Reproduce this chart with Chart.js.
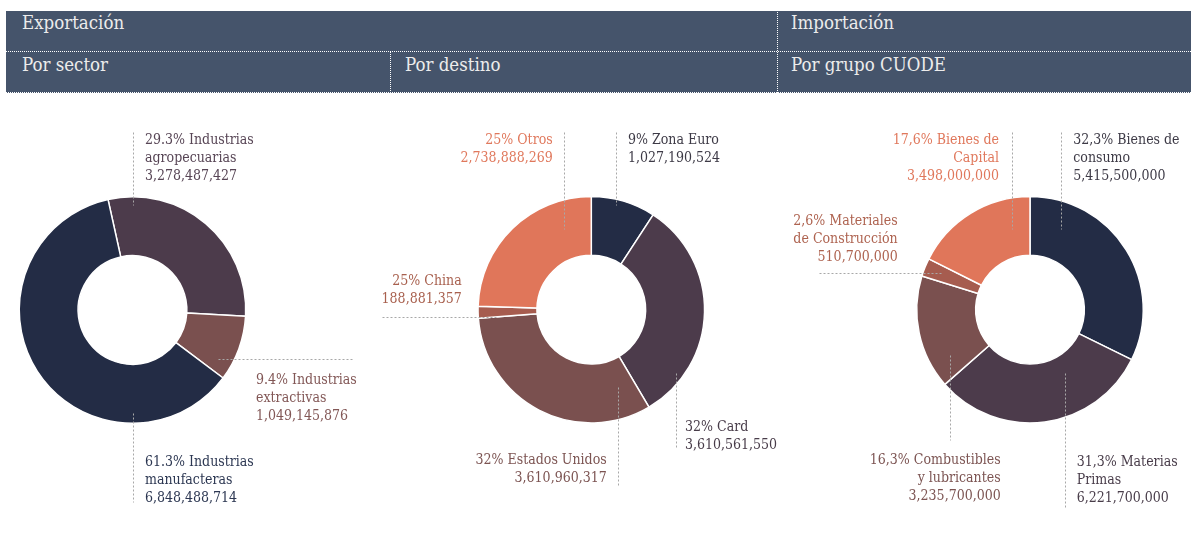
<!DOCTYPE html>
<html>
<head>
<meta charset="utf-8">
<script src="https://cdn.jsdelivr.net/npm/chart.js@4.4.1/dist/chart.umd.min.js"></script>
<style>
  body { margin: 0; width: 1191px; height: 538px; background: #fff; position: relative; overflow: hidden;
         font-family: "DejaVu Serif Condensed", "DejaVu Serif", serif; }
  .band { position: absolute; left: 6px; top: 11px; width: 1185px; height: 82px; background: #45546b; }
  .hline { position: absolute; left: 6px; width: 1185px; border-top: 1px dotted #fff; }
  .vline { position: absolute; border-left: 1px dotted #fff; }
  .htxt { position: absolute; color: #ececec; font-size: 18.5px; line-height: 22px; }
  canvas { position: absolute; top: 100px; }
</style>
</head>
<body>
<div class="band"></div>
<div class="hline" style="top:51px"></div>
<div class="hline" style="top:92px"></div>
<div class="vline" style="left:777px; top:9px; height:84px"></div>
<div class="vline" style="left:390px; top:51px; height:42px"></div>
<div class="htxt" style="left:22px; top:12px">Exportación</div>
<div class="htxt" style="left:791px; top:12px">Importación</div>
<div class="htxt" style="left:22px; top:54px">Por sector</div>
<div class="htxt" style="left:405px; top:54px">Por destino</div>
<div class="htxt" style="left:791px; top:54px">Por grupo CUODE</div>

<canvas id="sectorChart" width="385" height="438" style="left:0px"></canvas>
<canvas id="destinoChart" width="420" height="438" style="left:375px"></canvas>
<canvas id="cuodeChart" width="411" height="438" style="left:780px"></canvas>

<script>
// Exportación por sector (clockwise from the top)
const sectorLabels = [['29.3% Industrias', 'agropecuarias'], ['9.4% Industrias', 'extractivas'], ['61.3% Industrias', 'manufacteras']];
const sectorValues = [3278487427, 1049145876, 6848488714];

// Exportación por destino
const destinoLabels = [['9% Zona Euro'], ['32% Card'], ['32% Estados Unidos'], ['25% China'], ['25% Otros']];
const destinoValues = [1027190524, 3610561550, 3610960317, 188881357, 2738888269];

// Importación por grupo CUODE: slices follow the printed percentages
const cuodeLabels = [['32,3% Bienes de', 'consumo'], ['31,3% Materias', 'Primas'], ['16,3% Combustibles', 'y lubricantes'], ['2,6% Materiales', 'de Construcción'], ['17,6% Bienes de', 'Capital']];
const cuodeShares = [32.3, 31.3, 16.3, 2.6, 17.6];
const cuodeValues = [5415500000, 6221700000, 3235700000, 510700000, 3498000000];

const NAVY = '#232c45', PLUM = '#4c3b4b', BROWN = '#7a504f', CORAL = '#e0765a', RUST = '#a65c4f';
const FONT = '14px "DejaVu Serif Condensed", "DejaVu Serif", serif';

// callout layout, offsets from the ring centre: leader line [x1,y1,x2,y2], text anchor, alignment
const sectorCallouts = [
  { line: [0, -178, 0, -105], tx: 12.5, ty: -171, align: 'left', color: '#574555' },
  { line: [85.5, 49, 219.5, 49], tx: 123.5, ty: 69, align: 'left', color: '#825756' },
  { line: [0, 103, 0, 192], tx: 12.5, ty: 151, align: 'left', color: '#2c3752' }
];
const destinoCallouts = [
  { line: [24.7, -178, 24.7, -105], tx: 36.7, ty: -171, align: 'left', color: '#3d3a46' },
  { line: [84.7, 63, 84.7, 138], tx: 93.7, ty: 116, align: 'left', color: '#483c49' },
  { line: [27, 77, 27, 175], tx: 15.4, ty: 149, align: 'right', color: '#7c5452' },
  { line: [-209.6, 7, -93.3, 7], tx: -129.6, ty: -30, align: 'right', color: '#a8604e' },
  { line: [-27, -178, -27, -81], tx: -38.6, ty: -171, align: 'right', color: '#e0785c' }
];
const cuodeCallouts = [
  { line: [31, -178, 31, -81], tx: 43.3, ty: -171, align: 'left', color: '#3d3a46' },
  { line: [35, 63, 35, 197], tx: 46.7, ty: 151, align: 'left', color: '#483c49' },
  { line: [-80, 45, -80, 130], tx: -29.3, ty: 149, align: 'right', color: '#7c5452' },
  { line: [-210.7, -37, -89.3, -37], tx: -132.3, ty: -90, align: 'right', color: '#ae6350' },
  { line: [-18.3, -178, -18.3, -81], tx: -31, ty: -171, align: 'right', color: '#e0785c' }
];

const calloutPlugin = {
  id: 'callouts',
  afterDatasetsDraw(chart, args, opts) {
    const arc = chart.getDatasetMeta(0).data[0];
    if (!arc) return;
    const cx = arc.x, cy = arc.y;
    const ctx = chart.ctx;
    ctx.save();
    opts.items.forEach((c, i) => {
      ctx.strokeStyle = '#a8a8a8';
      ctx.lineWidth = 1;
      ctx.setLineDash([2, 2]);
      ctx.beginPath();
      ctx.moveTo(Math.round(cx + c.line[0]) + 0.5, Math.round(cy + c.line[1]) + 0.5);
      ctx.lineTo(Math.round(cx + c.line[2]) + 0.5, Math.round(cy + c.line[3]) + 0.5);
      ctx.stroke();

      const lines = opts.labels[i].concat([opts.values[i].toLocaleString('en-US')]);
      ctx.fillStyle = c.color;
      ctx.font = FONT;
      ctx.textAlign = c.align;
      ctx.textBaseline = 'alphabetic';
      lines.forEach((t, k) => ctx.fillText(t, cx + c.tx, cy + c.ty + 5 + k * 18));
    });
    ctx.restore();
  }
};

function makeDoughnut(id, data, colors, rotation, center, labels, values, callouts) {
  const canvas = document.getElementById(id);
  const left = parseFloat(canvas.style.left);
  const w = canvas.width, h = canvas.height;
  const cx = center[0] - left, cy = center[1] - 100;
  const half = 114;
  return new Chart(canvas, {
    type: 'doughnut',
    data: {
      datasets: [{ data: data, backgroundColor: colors, borderColor: '#ffffff', borderWidth: 1.5 }]
    },
    options: {
      responsive: false,
      animation: false,
      cutout: '48%',
      rotation: rotation,
      layout: { padding: { left: cx - half, right: w - cx - half, top: cy - half, bottom: h - cy - half } },
      plugins: {
        legend: { display: false },
        tooltip: { enabled: false },
        callouts: { items: callouts, labels: labels, values: values }
      }
    },
    plugins: [calloutPlugin]
  });
}

makeDoughnut('sectorChart', sectorValues, [PLUM, BROWN, NAVY], -12.5, [132.5, 310], sectorLabels, sectorValues, sectorCallouts);
makeDoughnut('destinoChart', destinoValues, [NAVY, PLUM, BROWN, RUST, CORAL], 0, [591.3, 309.7], destinoLabels, destinoValues, destinoCallouts);
makeDoughnut('cuodeChart', cuodeShares, [NAVY, PLUM, BROWN, RUST, CORAL], 0, [1030, 309.7], cuodeLabels, cuodeValues, cuodeCallouts);
</script>
</body>
</html>
